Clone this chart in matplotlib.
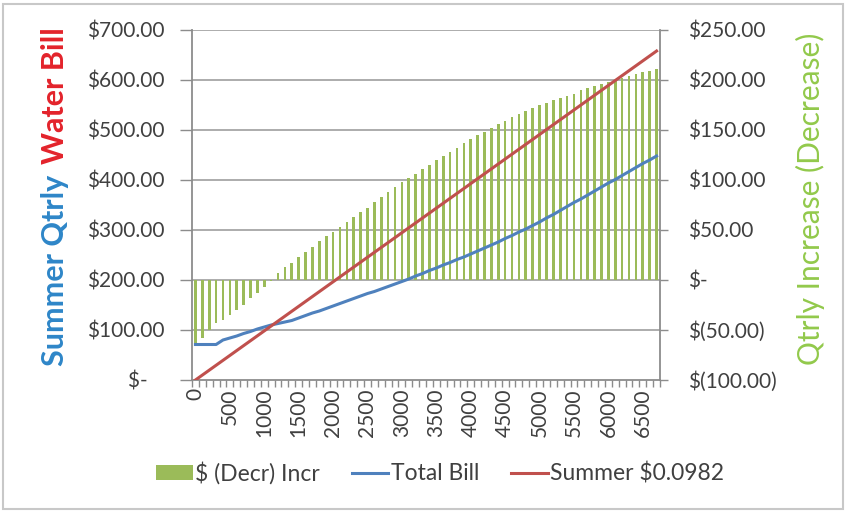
import matplotlib.pyplot as plt
from matplotlib.patches import Rectangle, Patch
from matplotlib.lines import Line2D

plt.rcParams['font.family'] = ['Lato', 'DejaVu Sans']

# quarterly usage steps (x categories)
usage = list(range(0, 6800, 100))

# quarterly bill at the summer rate
summer_bill = [
    0.00, 9.82, 19.64, 29.46, 39.28, 49.10, 58.92, 68.74, 78.56, 88.38,
    98.20, 108.02, 117.84, 127.66, 137.48, 147.30, 157.12, 166.94, 176.76, 186.58,
    196.40, 206.22, 216.04, 225.86, 235.68, 245.50, 255.32, 265.14, 274.96, 284.78,
    294.60, 304.42, 314.24, 324.06, 333.88, 343.70, 353.52, 363.34, 373.16, 382.98,
    392.80, 402.62, 412.44, 422.26, 432.08, 441.90, 451.72, 461.54, 471.36, 481.18,
    491.00, 500.82, 510.64, 520.46, 530.28, 540.10, 549.92, 559.74, 569.56, 579.38,
    589.20, 599.02, 608.84, 618.66, 628.48, 638.30, 648.12, 657.94,
]

# current total quarterly bill
total_bill = [
    71, 71, 71, 71, 80, 84, 88, 93, 97, 102,
    106, 110, 113, 116, 119, 124, 129, 134, 138, 143,
    148, 153, 158, 163, 168, 173, 177, 182, 187, 192,
    197, 202, 208, 213, 219, 224, 230, 235, 241, 246,
    252, 258, 264, 270, 276, 283, 289, 296, 302, 309,
    316, 324, 331, 339, 347, 355, 362, 370, 378, 386,
    394, 401, 409, 417, 425, 433, 440, 448,
]

# quarterly increase / (decrease)
change = [
    -66, -58, -50, -43, -40, -35, -30, -25, -18, -13,
    -7, -1, 7, 13, 17, 23, 28, 33, 39, 44,
    48, 53, 58, 63, 68, 72, 78, 83, 88, 93,
    98, 102, 106, 111, 115, 120, 124, 128, 132, 137,
    141, 145, 148, 152, 156, 159, 163, 166, 169, 172,
    175, 177, 180, 182, 184, 186, 190, 192, 194, 196,
    198, 200, 202, 204, 206, 208, 209, 211,
]

left_ticks = [0, 100, 200, 300, 400, 500, 600, 700]
left_labels = ['$-   ', '$100.00', '$200.00', '$300.00', '$400.00',
               '$500.00', '$600.00', '$700.00']
right_ticks = [-100, -50, 0, 50, 100, 150, 200, 250]
right_labels = ['$(100.00)', '$(50.00)', '$-', '$50.00', '$100.00',
                '$150.00', '$200.00', '$250.00']

GREEN = '#9BBB59'
BLUE = '#4F81BD'
RED = '#C0504D'
GRID = '#A6A6A6'
AXIS = '#8C8C8C'
TEXT = '#404040'

W, H = 848, 512
fig = plt.figure(figsize=(W / 100, H / 100), dpi=100)
fig.patches.append(Rectangle((3 / W, 3 / H), 840 / W, 505 / H, transform=fig.transFigure,
                             fill=False, edgecolor='#C8C8C8', lw=1.5))

x = list(range(len(usage)))

# bars on the host axes (right scale), lines on the twin (left scale)
ax = fig.add_axes([192 / W, 1 - 380 / H, 468 / W, 350 / H])
ax2 = ax.twinx()

ax.set_xlim(-0.5, len(usage) - 0.5)
ax.set_ylim(-100, 250)
for v in right_ticks[1:]:
    ax.axhline(v, color=GRID, lw=1.3, zorder=1)
ax.bar(x, change, width=0.38, color=GREEN, zorder=2)

ax.yaxis.tick_right()
ax.set_yticks(right_ticks)
ax.set_yticklabels(right_labels)
ax.tick_params(axis='y', direction='out', length=6, width=1, color=AXIS,
               labelsize=15, labelcolor=TEXT, pad=14)

ax.set_xticks(x[::5])
ax.set_xticklabels([str(u) for u in usage[::5]], rotation=90)
ax.set_xticks([i - 0.5 for i in range(len(usage) + 1)], minor=True)
ax.tick_params(axis='x', which='major', length=0, labelsize=15, labelcolor=TEXT, pad=6)
ax.tick_params(axis='x', which='minor', direction='out', length=5, width=1, color=AXIS)

for side in ['left', 'right', 'bottom']:
    ax.spines[side].set_color(AXIS)
    ax.spines[side].set_linewidth(1.3)
ax.spines['top'].set_visible(False)

ax2.set_ylim(0, 700)
ax2.plot(x, total_bill, color=BLUE, lw=2.2, zorder=3)
ax2.plot(x, summer_bill, color=RED, lw=2.2, zorder=3)
ax2.yaxis.tick_left()
ax2.set_yticks(left_ticks)
ax2.set_yticklabels(left_labels)
ax2.tick_params(axis='y', direction='out', length=9, width=1, color=AXIS,
                labelsize=15, labelcolor=TEXT, pad=11)
for s in ax2.spines.values():
    s.set_visible(False)

# two-coloured left title: second part starts just past the first
t1 = fig.text(55 / W, 1 - 366 / H, 'Summer Qtrly', rotation=90, rotation_mode='anchor',
              ha='left', va='center', fontsize=22, fontweight='bold', color='#2E86C8')
renderer = fig.canvas.get_renderer()
top = t1.get_window_extent(renderer).y1
fig.text(55 / W, (top + 11) / H, 'Water Bill', rotation=90, rotation_mode='anchor',
         ha='left', va='center', fontsize=22, fontweight='bold', color='#E3232B')

fig.text(810 / W, 1 - 199 / H, 'Qtrly Increase (Decrease)', rotation=90,
         ha='center', va='center', fontsize=21.5, color='#92C94B')

handles = [
    Patch(facecolor=GREEN, edgecolor='none'),
    Line2D([], [], color=BLUE, lw=2.2),
    Line2D([], [], color=RED, lw=2.2),
]
fig.legend(handles, ['$ (Decr) Incr', 'Total Bill', 'Summer $0.0982'],
           loc='center', bbox_to_anchor=(440 / W, 1 - 473 / H), ncol=3, frameon=False,
           fontsize=16.5, labelcolor=TEXT, handlelength=1.6, handletextpad=0.1,
           columnspacing=1.4, handleheight=0.6)

fig.savefig('out.png', dpi=100)
